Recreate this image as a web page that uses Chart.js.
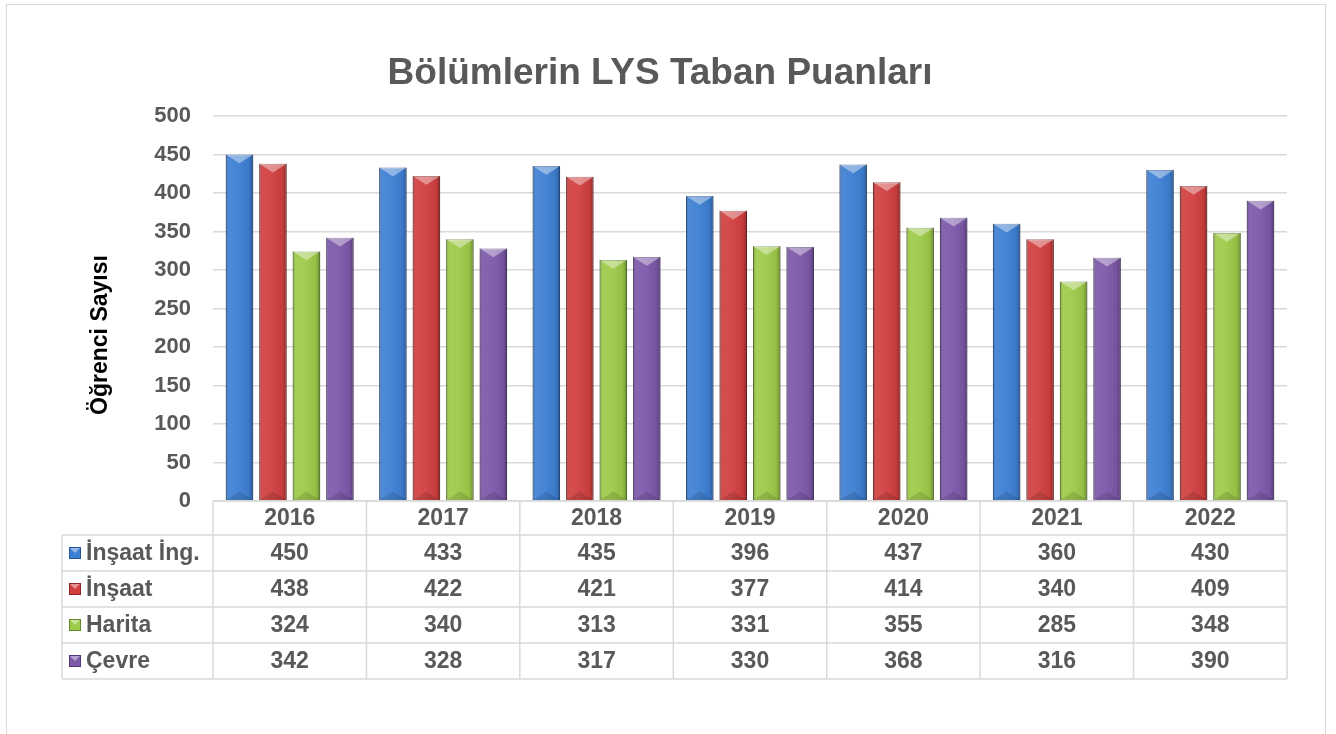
<!DOCTYPE html>
<html>
<head>
<meta charset="utf-8">
<script src="https://cdn.jsdelivr.net/npm/chart.js@4"></script>
<style>
  body { margin: 0; background: #fff; }
  #frame { position: absolute; left: 6px; top: 4px; width: 1320px; height: 780px; border: 1.5px solid #d9d9d9; box-sizing: border-box; }
  #c { position: absolute; left: 0; top: 0; }
</style>
</head>
<body>
<div id="frame"></div>
<canvas id="c" width="1336" height="734"></canvas>
<script>
// data
var years = ["2016", "2017", "2018", "2019", "2020", "2021", "2022"];
var insaatIng = [450, 433, 435, 396, 437, 360, 430];
var insaat = [438, 422, 421, 377, 414, 340, 409];
var harita = [324, 340, 313, 331, 355, 285, 348];
var cevre = [342, 328, 317, 330, 368, 316, 390];
var seriesNames = ["İnşaat İng.", "İnşaat", "Harita", "Çevre"];
var yTicks = [0, 50, 100, 150, 200, 250, 300, 350, 400, 450, 500];

var chartTitle = "Bölümlerin LYS Taban Puanları";
var yTitle = "Öğrenci Sayısı";

var colors = ["#3d7fd3", "#d13f3f", "#9dca48", "#7c58a9"];
var edgeColors = ["#24559a", "#8f2626", "#658a2a", "#513777"];

var FONT = "'Liberation Sans', Arial, sans-serif";
var GRAY = "#595959";
var LINE = "#d9d9d9";

// bevel look on each bar + data table under the plot
var excelLook = {
  id: "excelLook",
  afterDatasetsDraw: function(chart) {
    var ctx = chart.ctx;
    chart.data.datasets.forEach(function(ds, di) {
      chart.getDatasetMeta(di).data.forEach(function(bar) {
        var l = bar.x - bar.width / 2, r = bar.x + bar.width / 2;
        var t = bar.y, b = bar.base, w = bar.width;
        ctx.save();
        var g = ctx.createLinearGradient(l, 0, r, 0);
        g.addColorStop(0, "rgba(0,0,0,0.3)");
        g.addColorStop(0.12, "rgba(255,255,255,0.08)");
        g.addColorStop(0.45, "rgba(255,255,255,0.05)");
        g.addColorStop(0.85, "rgba(0,0,0,0.06)");
        g.addColorStop(1, "rgba(0,0,0,0.32)");
        ctx.fillStyle = g;
        ctx.fillRect(l, t, w, b - t);
        // top facet
        ctx.beginPath();
        ctx.moveTo(l, t);
        ctx.lineTo(r, t);
        ctx.lineTo(bar.x, t + w * 0.32);
        ctx.closePath();
        ctx.fillStyle = "rgba(255,255,255,0.4)";
        ctx.fill();
        // bottom facet
        ctx.beginPath();
        ctx.moveTo(l, b);
        ctx.lineTo(r, b);
        ctx.lineTo(bar.x, b - w * 0.32);
        ctx.closePath();
        ctx.fillStyle = "rgba(0,0,0,0.12)";
        ctx.fill();
        ctx.restore();
      });
    });
  },
  afterDraw: function(chart) {
    var ctx = chart.ctx;
    var x = chart.scales.x, area = chart.chartArea;
    var colW = (area.right - area.left) / years.length;
    var headH = 34, rowH = 36, legendLeft = 62;
    var top = area.bottom, rowsTop = top + headH, bottom = rowsTop + rowH * seriesNames.length;
    var allData = chart.data.datasets.map(function(d) { return d.data; });

    ctx.save();
    // title
    ctx.fillStyle = GRAY;
    ctx.font = "bold 37px " + FONT;
    ctx.textAlign = "center";
    ctx.textBaseline = "middle";
    ctx.fillText(chartTitle, 660, 74);

    // y axis title
    ctx.save();
    ctx.translate(101, 335);
    ctx.rotate(-Math.PI / 2);
    ctx.fillStyle = "#000";
    ctx.font = "bold 23px " + FONT;
    ctx.fillText(yTitle, 0, 0);
    ctx.restore();

    // table grid
    ctx.strokeStyle = LINE;
    ctx.lineWidth = 1.5;
    ctx.beginPath();
    ctx.moveTo(area.left, top); ctx.lineTo(area.right, top);
    for (var r = 0; r <= seriesNames.length; r++) {
      ctx.moveTo(legendLeft, rowsTop + r * rowH);
      ctx.lineTo(area.right, rowsTop + r * rowH);
    }
    ctx.moveTo(legendLeft, rowsTop); ctx.lineTo(legendLeft, bottom);
    for (var i = 0; i <= years.length; i++) {
      var cx = area.left + i * colW;
      ctx.moveTo(cx, top); ctx.lineTo(cx, bottom);
    }
    ctx.stroke();

    // header + values
    ctx.fillStyle = GRAY;
    ctx.font = "bold 23px " + FONT;
    ctx.textAlign = "center";
    years.forEach(function(y, i) {
      var px = x.getPixelForValue(i);
      ctx.fillText(y, px, top + headH / 2 + 1);
      allData.forEach(function(vals, s) {
        ctx.fillText(String(vals[i]), px, rowsTop + s * rowH + rowH / 2 + 1);
      });
    });

    // series names with legend keys
    ctx.textAlign = "left";
    seriesNames.forEach(function(name, s) {
      var cy = rowsTop + s * rowH + rowH / 2;
      ctx.fillStyle = colors[s];
      ctx.fillRect(69, cy - 6, 12, 12);
      ctx.strokeStyle = edgeColors[s];
      ctx.lineWidth = 1;
      ctx.strokeRect(69.5, cy - 5.5, 11, 11);
      ctx.beginPath();
      ctx.moveTo(70, cy - 5); ctx.lineTo(80, cy - 5); ctx.lineTo(75, cy);
      ctx.closePath();
      ctx.fillStyle = "rgba(255,255,255,0.45)";
      ctx.fill();
      ctx.fillStyle = GRAY;
      ctx.fillText(name, 86, cy + 1);
    });
    ctx.restore();
  }
};

var datasets = [insaatIng, insaat, harita, cevre].map(function(vals, i) {
  return {
    label: seriesNames[i],
    data: vals,
    backgroundColor: colors[i],
    borderColor: edgeColors[i],
    borderWidth: 1,
    categoryPercentage: 0.873,
    barPercentage: 0.82
  };
});

Chart.defaults.font.family = FONT;

new Chart(document.getElementById("c"), {
  type: "bar",
  data: { labels: years, datasets: datasets },
  options: {
    responsive: false,
    animation: false,
    layout: { padding: { left: 10, top: 116, right: 49, bottom: 233 } },
    plugins: { legend: { display: false }, tooltip: { enabled: false } },
    scales: {
      x: { display: false },
      y: {
        min: 0,
        max: 500,
        afterBuildTicks: function(scale) {
          scale.ticks = yTicks.map(function(v) { return { value: v }; });
        },
        afterFit: function(scale) { scale.width = 203; },
        border: { display: false },
        grid: { color: LINE, lineWidth: 1.5, drawTicks: false },
        ticks: {
          padding: 22,
          color: GRAY,
          font: { size: 22, weight: "bold" }
        }
      }
    }
  },
  plugins: [excelLook]
});
</script>
</body>
</html>
